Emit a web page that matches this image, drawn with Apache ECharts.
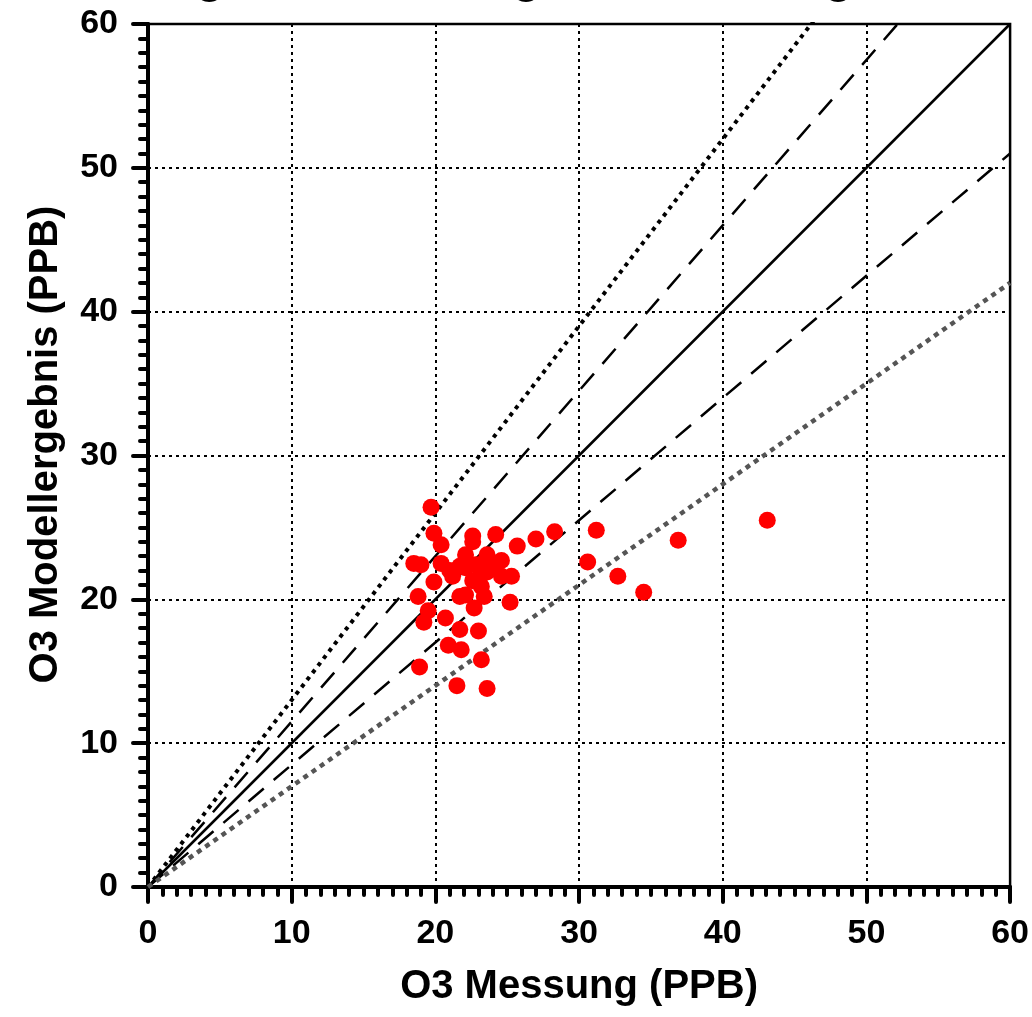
<!DOCTYPE html>
<html>
<head>
<meta charset="utf-8">
<script src="https://cdn.jsdelivr.net/npm/echarts@6/dist/echarts.min.js"></script>
<style>
  html, body { margin: 0; padding: 0; background: #fff; }
  #chart { width: 1032px; height: 1017px; }
</style>
</head>
<body>
<div id="chart"></div>
<script>
// O3 Messung (x) vs. Modellergebnis (y), ppb
var messung = [
  19.7, 19.9, 20.4, 18.5, 19.0, 20.4, 21.0, 21.2, 19.9, 18.8,
  19.5, 19.2, 20.7, 21.7, 22.1, 22.7, 23.4, 25.2, 21.7, 23.0,
  20.9, 21.8, 23.2, 18.9, 21.5, 23.6, 22.6, 22.6, 24.2, 25.7,
  27.0, 28.3, 22.1, 23.6, 24.6, 24.1, 24.6, 25.3, 23.1, 22.6,
  23.2, 23.6, 22.1, 22.8, 21.7, 23.3, 30.6, 31.2, 32.7, 34.5,
  36.9, 43.1
];
var modell = [
  26.4, 24.6, 23.8, 22.5, 22.4, 22.5, 22.0, 21.6, 21.2, 20.2,
  19.2, 18.4, 18.7, 20.2, 20.3, 19.4, 20.2, 19.8, 17.9, 17.8,
  16.8, 16.5, 15.8, 15.3, 14.0, 13.8, 24.4, 24.0, 24.5, 23.7,
  24.2, 24.7, 23.1, 23.1, 22.7, 22.4, 21.6, 21.6, 21.6, 21.3,
  20.9, 21.9, 22.2, 22.4, 22.3, 22.5, 22.6, 24.8, 21.6, 20.5,
  24.1, 25.5
];
// reference lines y = k * x
var refSlopes = [1, 1.15, 0.85, 1.3, 0.7];
var refRange = [0, 60];
var xTicks = ['0', '10', '20', '30', '40', '50', '60'];

var FONT = "'Liberation Sans', Arial, sans-serif";

var refStyles = [
  { color: '#000', width: 2.5, type: 'solid' },
  { color: '#000', width: 2.5, type: [20, 13] },
  { color: '#000', width: 2.5, type: [20, 13] },
  { color: '#000', width: 4, type: [4, 5] },
  { color: '#555', width: 4.5, type: [5, 5] }
];

var series = refSlopes.map(function (k, i) {
  return {
    type: 'line',
    data: refRange.map(function (x) { return [x, x * k]; }),
    symbol: 'none',
    silent: true,
    clip: true,
    z: 2,
    lineStyle: refStyles[i]
  };
});

series.push({
  type: 'scatter',
  data: messung.map(function (x, i) { return [x, modell[i]]; }),
  symbol: 'circle',
  symbolSize: 17,
  itemStyle: { color: '#ff0000', opacity: 1 },
  z: 5
});

var myChart = echarts.init(document.getElementById('chart'), null, { renderer: 'canvas' });

var axisCommon = {
  type: 'value',
  min: 0,
  max: 60,
  interval: 10,
  nameLocation: 'middle',
  nameTextStyle: { fontFamily: FONT, fontWeight: 'bold', fontSize: 40, color: '#000' },
  axisLine: { show: true, onZero: false, lineStyle: { color: '#000', width: 4 } },
  axisTick: { show: true, inside: false, length: 15, lineStyle: { color: '#000', width: 4, cap: 'round' } },
  minorTick: { show: true, splitNumber: 10, length: 8, lineStyle: { color: '#000', width: 4, cap: 'round' } },
  axisLabel: {
    fontFamily: FONT, fontWeight: 'bold', fontSize: 34, color: '#000', margin: 30,
    formatter: function (v) { return xTicks[v / 10]; }
  },
  splitLine: { show: true, lineStyle: { color: '#000', width: 2, type: [3, 4] } },
  minorSplitLine: { show: false }
};

var option = {
  backgroundColor: '#fff',
  animation: false,
  grid: {
    left: 148, right: 20, top: 24, bottom: 130,
    show: true, borderColor: '#000', borderWidth: 2.5, backgroundColor: 'transparent'
  },
  graphic: [{
    type: 'text',
    left: 124,
    top: -44,
    style: {
      text: 'Vergleich Messungen - Modellergebnisse',
      font: 'bold 46px ' + FONT,
      fill: '#000'
    }
  }],
  xAxis: Object.assign({}, axisCommon, { name: 'O3 Messung (PPB)', nameGap: 80 }),
  yAxis: Object.assign({}, axisCommon, {
    name: 'O3 Modellergebnis (PPB)',
    nameGap: 82,
    nameTextStyle: Object.assign({}, axisCommon.nameTextStyle, { padding: [0, 0, 0, 22] })
  }),
  series: series
};

myChart.setOption(option);
</script>
</body>
</html>
